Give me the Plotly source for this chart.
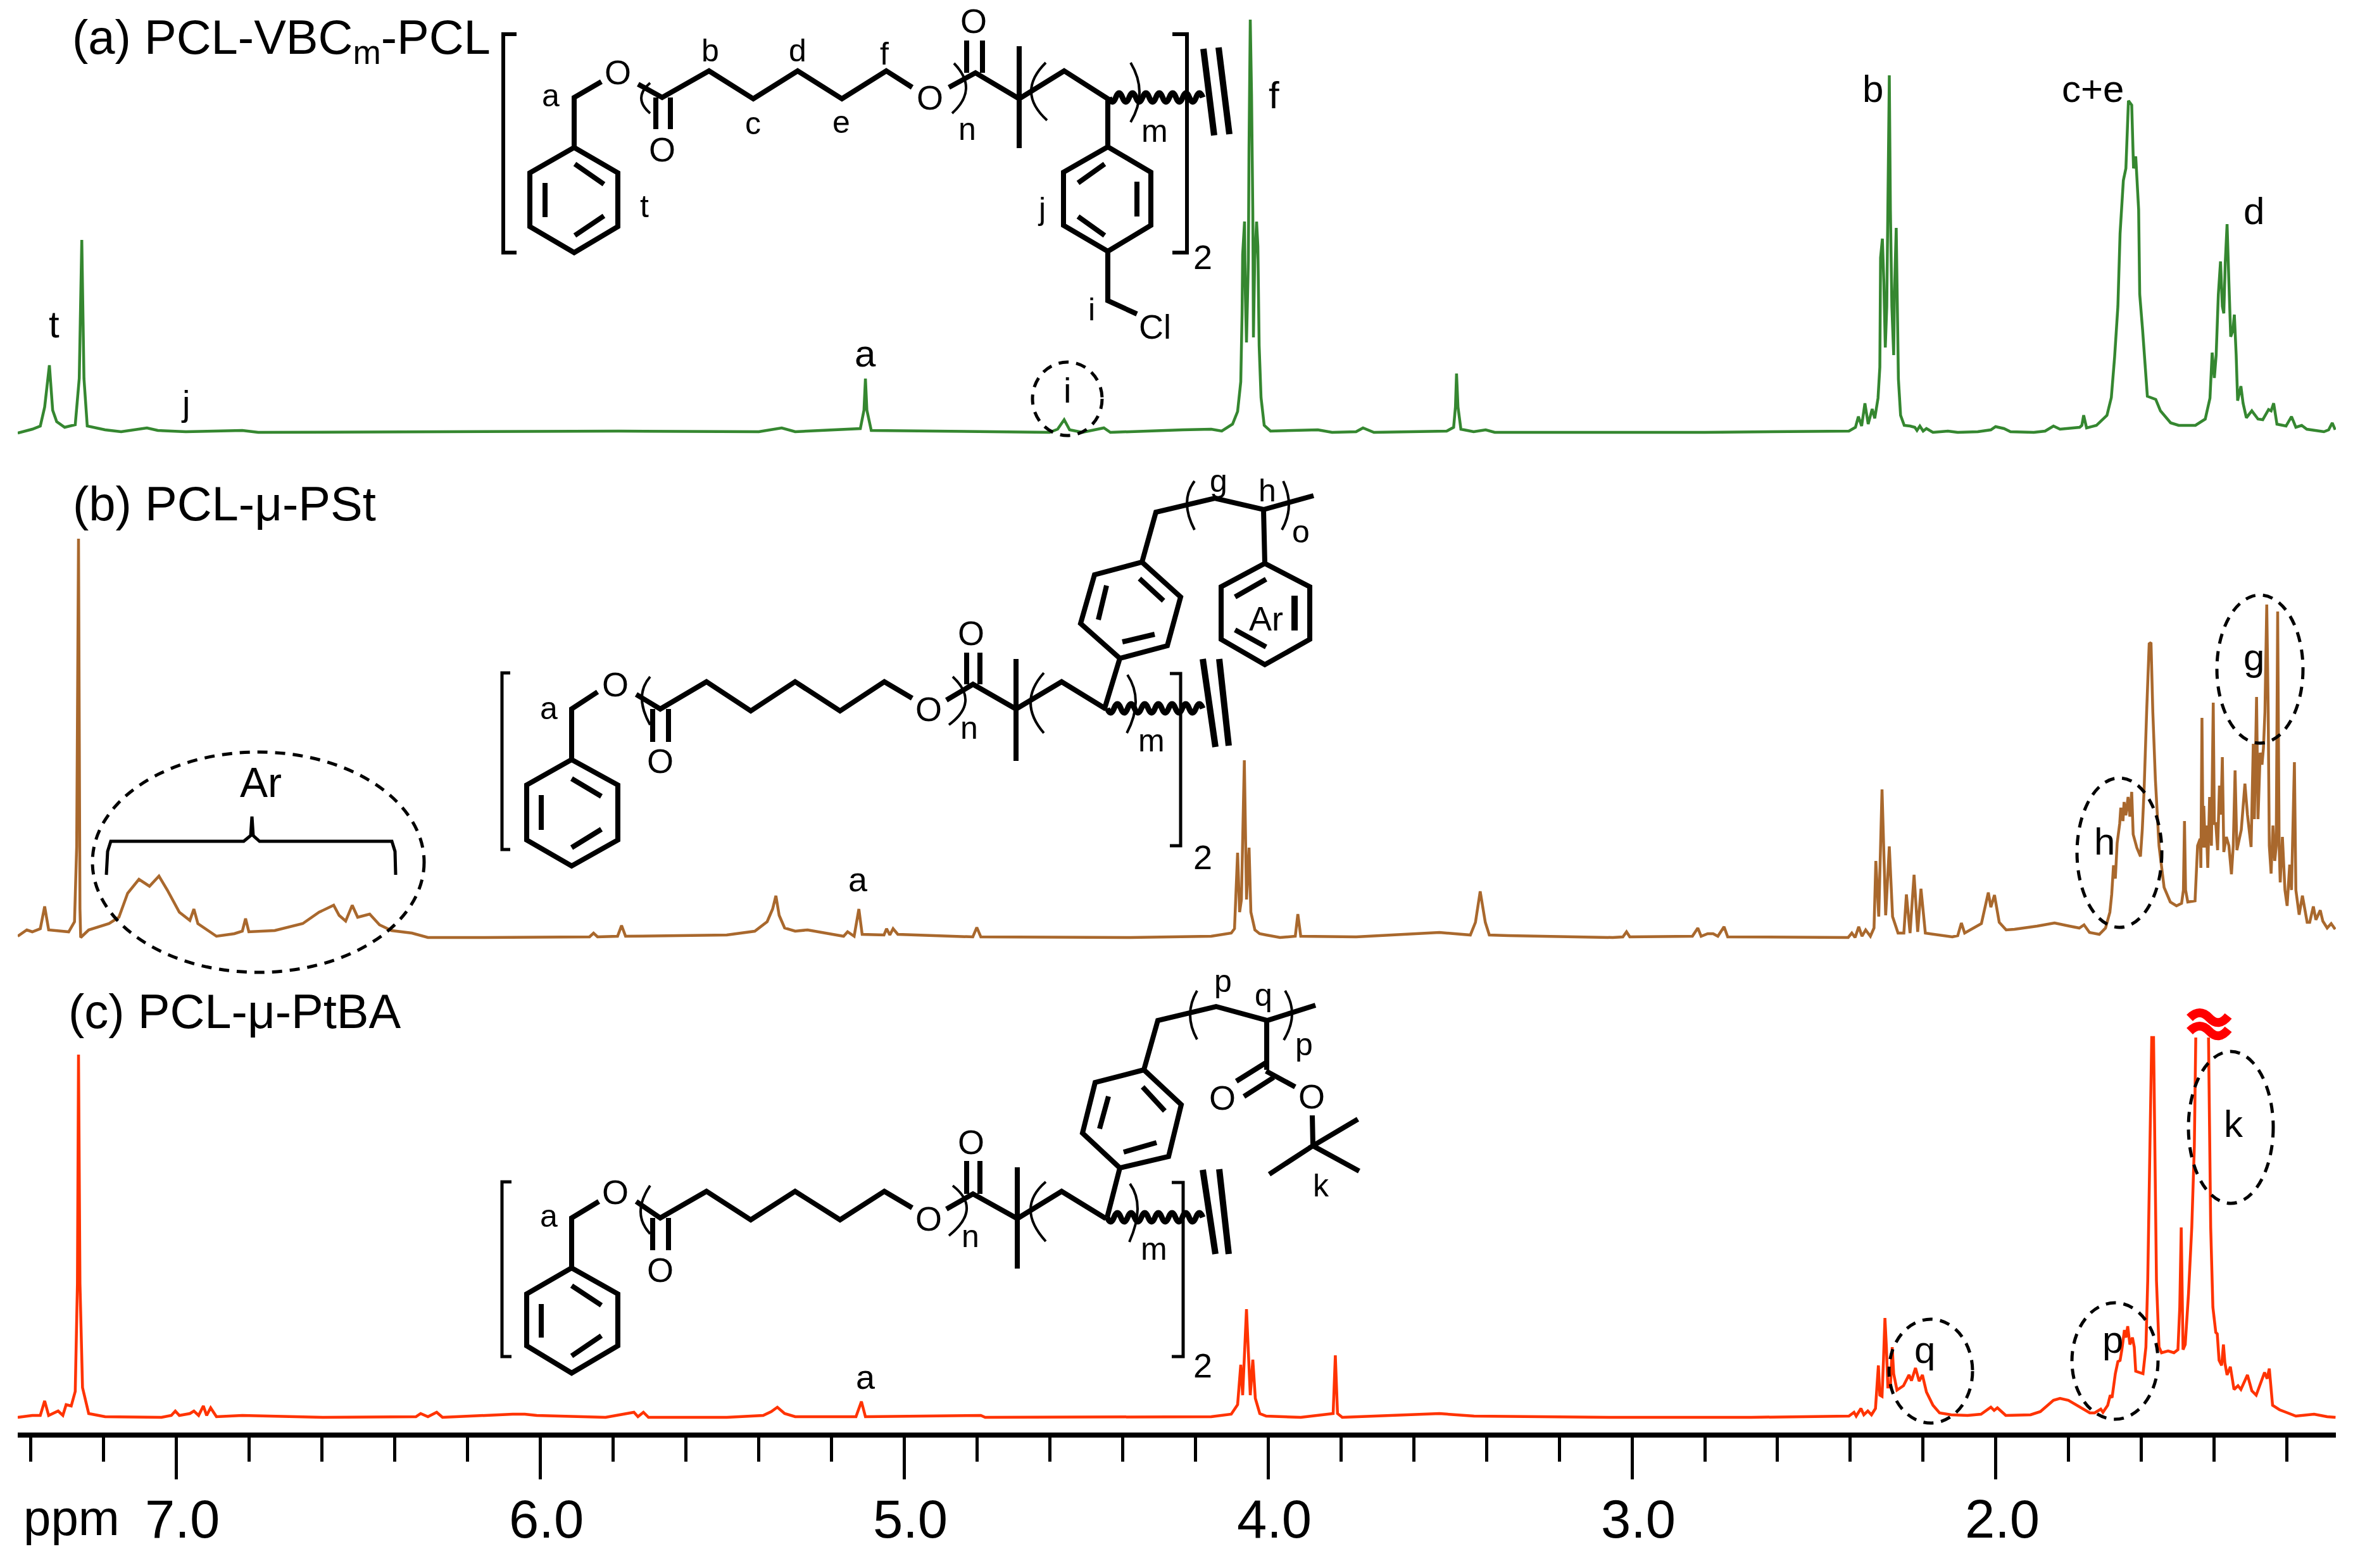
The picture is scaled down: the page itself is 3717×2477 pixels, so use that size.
import plotly.graph_objects as go

# ---------- spectra (ppm, intensity in image units) ----------
ppm_a = [7.435,7.395,7.373,7.361,7.348,7.339,7.328,7.306,7.277,7.266,7.259,7.253,7.244,7.195,7.151,7.102,7.080,7.050,6.973,6.818,6.774,
 5.784,5.399,5.336,5.299,5.120,5.110,5.106,5.102,5.090,4.600,4.578,4.560,4.545,4.510,4.451,4.433,4.234,4.156,4.127,4.0974,4.0835,4.0748,
 4.0713,4.0696,4.0644,4.0626,4.0591,4.0539,4.0522,4.0487,4.0452,4.0417,4.0400,4.0365,4.0313,4.0278,4.0243,4.0191,4.0104,3.993,
 3.863,3.824,3.758,3.739,3.709,3.509,3.490,3.485,3.482,3.478,3.470,3.435,3.402,3.377,2.80,2.50,
 2.440,2.404,2.386,2.378,2.369,2.360,2.351,2.340,2.333,2.324,2.319,2.317,2.312,2.308,2.304,2.300,2.297,2.293,2.290,2.286,2.281,2.279,2.274,2.271,2.268,2.262,2.252,2.236,2.223,2.217,2.209,2.200,2.191,2.173,2.132,2.105,2.050,2.014,2.001,1.978,1.960,1.896,1.865,1.842,1.824,1.770,1.764,1.759,1.751,1.724,1.706,1.695,1.683,1.674,1.665,1.659,1.650,1.643,1.636,1.627,1.622,1.616,1.608,1.605,1.597,1.590,1.584,1.561,1.548,1.520,1.498,1.452,1.425,1.412,1.406,1.400,1.395,1.389,1.383,1.378,1.374,1.370,1.365,1.360,1.355,1.349,1.345,1.340,1.336,1.327,1.321,1.312,1.297,1.280,1.267,1.251,1.244,1.237,1.228,1.203,1.188,1.176,1.160,1.146,1.099,1.086,1.076,1.068]
int_a = [-1,5,10,40,106,35,17,8,12,85,304,85,10,4,1,5,7,3,1,3,0,
 2,1,7,1,6,35,85,35,3,0,5,20,4,0,7,0,4,5,2,13,33,80,
 185,281,333,229,142,272,447,652,534,347,150,272,333,294,137,55,11,2,
 4,0,1,7,0,2,8,40,93,40,5,1,4,0,0,1,
 2,2,8,25,10,46,13,37,22,54,103,276,306,237,134,199,352,564,352,199,122,218,323,199,84,27,11,10,8,3,10,2,6,0,2,0,1,4,9,6,1,0,2,10,5,8,11,27,7,11,21,27,55,119,199,314,398,417,524,517,417,436,352,218,161,103,57,52,34,15,11,11,21,54,126,86,122,218,270,199,188,268,329,237,151,161,186,122,50,73,46,23,34,21,20,36,34,46,13,10,25,8,11,5,1,4,15,4]

ppm_b = [7.435,7.410,7.395,7.373,7.361,7.350,7.295,7.279,7.273,7.268,7.264,7.262,7.240,7.184,7.157,7.133,7.102,7.073,7.047,7.024,6.991,6.962,6.951,6.940,6.889,6.840,6.818,6.809,6.800,6.729,6.652,6.607,6.567,6.552,6.534,6.516,6.501,6.468,6.441,6.408,6.352,6.308,6.153,5.864,5.853,5.842,5.787,5.776,5.765,5.487,5.410,5.376,5.361,5.352,5.343,5.328,5.299,5.265,5.166,5.155,5.137,5.124,5.115,5.055,5.048,5.039,5.030,5.017,4.811,4.800,4.789,4.378,4.156,4.101,4.092,
 4.0835,4.078,4.073,4.065,4.059,4.052,4.047,4.036,4.023,4.005,
 3.967,3.925,3.918,3.910,3.758,3.529,3.444,3.430,3.417,3.403,3.392,3.339,3.053,3.025,3.015,3.006,2.834,2.819,2.810,2.792,2.777,2.764,2.747,2.737,2.406,2.396,2.387,2.377,2.368,2.358,2.345,2.335,2.330,2.322,2.313,2.303,2.293,2.284,2.269,2.253,2.246,2.236,2.225,2.215,2.206,2.194,2.120,2.105,2.095,2.086,2.063,2.040,2.021,2.014,2.004,1.991,
 1.972,1.949,1.887,1.839,1.798,1.771,1.758,1.743,1.716,1.699,1.687,1.682,1.677,1.672,1.667,1.660,1.657,1.651,1.648,1.643,1.637,1.632,1.627,1.623,1.613,1.603,1.598,1.593,1.586,1.579,1.574,1.569,1.562,1.552,1.538,1.521,1.504,1.490,1.485,1.482,1.479,1.473,1.453,1.446,1.439,1.437,1.434,1.431,1.429,1.425,1.422,1.418,1.413,1.408,1.403,1.400,1.396,1.391,1.386,1.382,1.378,1.374,1.367,1.360,1.353,1.348,1.343,1.338,1.326,1.316,1.309,1.299,1.293,1.290,1.284,1.280,1.274,1.269,1.265,1.261,1.256,1.252,1.249,1.244,1.239,1.234,1.230,1.226,1.222,1.219,1.213,1.206,1.200,1.193,1.188,1.185,1.180,1.176,1.167,1.158,1.145,1.138,1.128,1.121,1.109,1.102,1.090,1.079,1.068]
int_b = [2,12,9,14,49,12,9,25,144,630,45,0,12,22,32,70,92,81,97,75,40,27,45,22,2,6,10,30,9,11,22,40,51,35,26,51,32,37,20,11,7,0,0,1,7,1,2,19,2,4,10,25,45,66,35,15,10,12,2,9,2,45,5,4,14,4,14,5,1,16,1,0,2,7,14,
 134,40,60,280,60,142,40,12,6,4,
 0,2,37,2,1,8,4,24,73,24,4,3,0,1,9,1,2,15,2,6,6,2,17,1,0,7,0,17,2,12,2,15,121,33,234,35,144,33,7,7,68,7,99,9,77,7,1,3,23,7,15,22,71,48,67,24,
 12,13,18,23,18,15,20,8,5,15,40,68,114,93,149,180,205,184,214,193,222,191,230,163,142,128,170,233,356,464,466,356,250,145,79,56,50,54,75,184,75,56,58,145,156,110,347,142,208,142,177,110,222,145,371,180,180,138,240,194,285,135,159,145,100,145,264,138,170,243,194,143,306,187,380,187,292,273,300,356,526,356,145,101,177,121,145,515,145,87,159,75,50,115,75,138,277,75,36,66,24,24,49,28,43,26,15,22,13]

ppm_c = [7.435,7.395,7.373,7.361,7.350,7.324,7.311,7.302,7.288,7.277,7.271,7.268,7.264,7.257,7.240,7.195,7.040,7.013,7.002,6.991,6.962,6.951,6.938,6.925,6.916,6.905,6.889,6.818,6.596,6.341,6.328,6.308,6.284,6.268,6.075,6.042,6.009,5.820,5.742,5.731,5.716,5.702,5.487,5.387,5.365,5.348,5.328,5.299,5.132,5.117,5.106,4.789,4.777,4.156,4.101,
 4.0835,4.0748,4.0696,4.0591,4.0487,4.0417,4.0348,4.0226,4.005,
 3.910,3.821,3.815,3.809,3.796,3.529,3.434,3.053,2.673,
 2.440,2.404,2.390,2.384,2.371,2.363,2.352,2.342,2.331,2.327,2.323,2.319,2.313,2.309,2.305,2.301,2.297,2.290,2.285,2.281,2.272,2.254,2.239,2.232,2.221,2.211,2.202,2.191,2.173,2.155,2.123,2.078,2.041,2.014,2.005,1.996,1.973,1.905,1.878,1.842,1.824,1.801,1.742,1.729,1.712,1.706,1.693,1.686,1.681,1.672,1.665,1.659,1.654,1.647,1.643,1.638,1.632,1.625,1.620,1.616,1.606,1.596,1.588,1.583,1.577,1.572,1.567,1.563,1.559,1.552,1.545,1.527,1.511,1.500,1.495,1.491,1.489,1.486,1.480,1.471,1.462,1.455,1.451,None,1.416,1.413,1.410,1.404,1.396,1.392,1.387,1.380,1.375,1.371,1.365,1.356,1.346,1.335,1.327,1.309,1.297,1.285,1.276,1.262,1.255,1.249,1.240,1.221,1.203,1.176,1.126,1.090,1.067]
int_c = [0,3,3,26,3,10,3,20,18,41,211,573,211,47,6,1,0,3,10,3,6,10,3,18,3,15,1,3,0,1,6,1,8,0,5,5,3,0,8,1,8,0,0,3,9,16,6,1,1,25,1,3,0,1,5,
 20,83,35,171,35,91,30,6,2,
 0,6,98,6,0,6,2,0,0,
 2,2,8,2,14,4,10,4,14,48,82,35,33,90,157,111,48,48,111,69,43,50,67,58,78,57,67,40,19,7,4,3,5,16,11,15,3,4,9,27,30,27,7,7,13,8,19,35,31,69,88,90,107,138,126,144,115,126,111,73,71,69,111,216,427,600,600,427,216,111,102,105,102,107,174,300,174,107,115,195,300,427,600,None,600,427,300,174,134,132,90,82,115,86,67,80,44,50,44,67,42,35,50,71,61,77,19,12,8,2,5,1,0]

major_ticks = [7, 6, 5, 4, 3, 2]
major_labels = ["7.0", "6.0", "5.0", "4.0", "3.0", "2.0"]
minor_ticks = [7.4,7.2,6.8,6.6,6.4,6.2,5.8,5.6,5.4,5.2,4.8,4.6,4.4,4.2,3.8,3.6,3.4,3.2,2.8,2.6,2.4,2.2,1.8,1.6,1.4,1.2]

# ---------- page geometry ----------
W, H = 3717, 2477
ML, MR, MT, MB = 28, 27, 0, 214
PW, PH = W - ML - MR, H - MT - MB
def px(x): return (x - ML) / PW
def py(y): return 1 - (y - MT) / PH
BLACK = "#000000"
shapes, annos = [], []

def poly(lines, width=8, color=BLACK, fill=None):
    d = ""
    for pts in lines:
        d += "M" + " L".join(f"{px(a):.5f},{py(b):.5f}" for a, b in pts) + " "
    shapes.append(dict(type="path", path=d, xref="paper", yref="paper", layer="above",
                       line=dict(color=color, width=width)))
def paren(a, b, c, width=4):
    cx = 2*b[0] - (a[0]+c[0])/2; cy = 2*b[1] - (a[1]+c[1])/2
    d = f"M{px(a[0]):.5f},{py(a[1]):.5f} Q{px(cx):.5f},{py(cy):.5f} {px(c[0]):.5f},{py(c[1]):.5f}"
    shapes.append(dict(type="path", path=d, xref="paper", yref="paper", layer="above",
                       line=dict(color=BLACK, width=width)))
def wavy(x0, x1, y, n=7, amp=7, width=9):
    w = (x1-x0)/n
    d = f"M{px(x0):.5f},{py(y):.5f}"
    x = x0
    for i in range(n):
        d += f" Q{px(x+w/4):.5f},{py(y+amp*2):.5f} {px(x+w/2):.5f},{py(y):.5f}"
        d += f" Q{px(x+3*w/4):.5f},{py(y-amp*2):.5f} {px(x+w):.5f},{py(y):.5f}"
        x += w
    shapes.append(dict(type="path", path=d, xref="paper", yref="paper", layer="above",
                       line=dict(color=BLACK, width=width)))
def ellipse(cx, cy, rx, ry):
    shapes.append(dict(type="circle", xref="paper", yref="paper", layer="above",
                       x0=px(cx-rx), x1=px(cx+rx), y0=py(cy+ry), y1=py(cy-ry),
                       line=dict(color=BLACK, width=5, dash="16px,12px")))
def text(x, y, s, size=50, anchor="center", color=BLACK):
    annos.append(dict(x=px(x), y=py(y), xref="paper", yref="paper", text=s, showarrow=False,
                      xanchor=anchor, yanchor="middle", align=anchor,
                      font=dict(family="Liberation Sans", size=size, color=color)))

# ---------- structure (a) ----------
poly([[(816,54),(795,54),(795,399),(816,399)], [(1852,54),(1875,54),(1875,399),(1852,399)]], 6)
poly([[(907,233),(976,273),(976,358),(907,399),(837,358),(837,273),(907,233),(907,154),(950,129)],
      [(908,259),(954,291)],[(954,341),(908,372)],[(861,289),(861,343)],
      [(1008,133),(1046,154),(1120,112),(1190,156),(1260,112),(1330,156),(1400,112),(1441,138)],
      [(1036,154),(1036,204)],[(1059,154),(1059,204)],
      [(1499,138),(1541,115),(1610,156),(1681,112),(1750,156),(1750,232),(1818,272),(1818,356),(1750,397),(1680,356),(1680,272),(1750,232)],
      [(1527,115),(1527,64)],[(1552,115),(1552,64)],[(1610,73),(1610,234)],
      [(1703,289),(1745,259)],[(1796,287),(1796,342)],[(1703,342),(1745,372)],
      [(1750,397),(1750,475),(1796,496)]])
poly([[(1901,77),(1918,214)],[(1925,75),(1942,212)]], 10)
wavy(1752, 1900, 154)
paren((1027,131),(1013,155),(1027,179)); paren((1507,100),(1526,140),(1504,179))
paren((1652,99),(1629,145),(1654,190)); paren((1786,99),(1800,146),(1786,193))
for x,y,s in [(976,114,"O"),(1046,236,"O"),(1469,154,"O"),(1538,33,"O"),(1824,516,"Cl"),(870,151,"a"),(1122,80,"b"),(1189,195,"c"),(1260,80,"d"),(1329,193,"e"),(1397,85,"f"),
              (1018,326,"t"),(1645,330,"j"),(1724,489,"i"),(1528,204,"n"),(1824,207,"m"),(1900,406,"2")]:
    text(x,y,s,54 if s in("O","Cl","2") else 50)
text(112,64,"(a) PCL-VBC<sub>m</sub>-PCL",76,"left")
text(85,512,"t",60); text(1367,558,"a",60); text(293,636,"j",56); text(1686,616,"i",56)
text(2013,150,"f",60); text(2958,140,"b",60); text(3306,140,"c+e",60); text(3560,333,"d",60)
ellipse(1686,630,55,58)

# ---------- structure (b) ----------
poly([[(806,1063),(793,1063),(793,1342),(806,1342)], [(1848,1064),(1865,1064),(1865,1336),(1848,1336)]], 5)
poly([[(903,1200),(976,1240),(976,1327),(903,1368),(832,1327),(832,1240),(903,1200),(903,1120),(944,1093)],
      [(903,1230),(950,1258)],[(950,1310),(903,1339)],[(855,1256),(855,1311)],
      [(1005,1097),(1043,1120),(1116,1077),(1186,1123),(1256,1077),(1327,1123),(1397,1077),(1441,1103)],
      [(1031,1120),(1031,1172)],[(1056,1120),(1056,1172)],
      [(1495,1106),(1537,1081),(1605,1120),(1677,1077),(1747,1120)],
      [(1527,1081),(1527,1031)],[(1548,1081),(1548,1031)],[(1605,1041),(1605,1202)],
      [(1745,1119),(1769,1040),(1844,1020),(1865,943),(1804,888),(1729,908),(1707,985),(1769,1040)],
      [(1800,914),(1838,949)],[(1773,1014),(1824,1002)],[(1735,979),(1748,925)],
      [(1804,888),(1826,809),(1919,787),(1996,805),(2075,783)],
      [(1996,805),(1998,890),(2069,927),(2069,1010),(1998,1050),(1929,1010),(1929,927),(1998,890)],
      [(1951,943),(2000,915)],[(1951,995),(2000,1022)]], 8)
poly([[(2045,941),(2045,996)]], 10)
poly([[(1900,1041),(1920,1180)],[(1926,1041),(1941,1178)]], 10)
wavy(1749, 1900, 1119)
paren((1027,1069),(1014,1103),(1027,1145)); paren((1505,1069),(1525,1108),(1499,1145))
paren((1649,1063),(1628,1110),(1649,1158)); paren((1781,1066),(1794,1109),(1780,1158))
paren((1887,760),(1875,795),(1887,837)); paren((2027,760),(2036,799),(2025,837))
for x,y,s in [(972,1081,"O"),(1043,1202,"O"),(1467,1120,"O"),(1534,1000,"O"),(867,1119,"a"),(1531,1150,"n"),(1819,1170,"m"),
              (1900,1354,"2"),(1925,760,"g"),(2002,775,"h"),(2055,840,"o")]:
    text(x,y,s,54 if s in("O","2") else 50)
text(2000,977,"Ar",54)
text(113,795,"(b) PCL-μ-PSt",76,"left")
text(1355,1389,"a",54); text(412,1236,"Ar",66)
poly([[(168,1382),(170,1345),(175,1329),(385,1329),(396,1320),(398,1290),(400,1320),(410,1329),(619,1329),(624,1345),(625,1382)]], 5)
ellipse(408,1362,262,174); ellipse(3348,1347,67,118); ellipse(3570,1057,68,117)
text(3324,1330,"h",60); text(3560,1038,"g",60)

# ---------- structure (c) ----------
poly([[(808,1867),(793,1867),(793,2143),(808,2143)], [(1851,1868),(1869,1868),(1869,2143),(1851,2143)]], 5)
poly([[(903,2003),(976,2044),(976,2126),(903,2169),(832,2126),(832,2044),(903,2003),(903,1924),(946,1898)],
      [(903,2031),(950,2062)],[(950,2110),(903,2142)],[(855,2060),(855,2113)],
      [(1005,1898),(1043,1924),(1116,1882),(1186,1927),(1256,1882),(1327,1927),(1397,1882),(1441,1908)],
      [(1031,1924),(1031,1975)],[(1056,1924),(1056,1975)],
      [(1495,1910),(1537,1886),(1607,1925),(1677,1882),(1747,1925)],
      [(1527,1886),(1527,1834)],[(1548,1886),(1548,1834)],[(1607,1844),(1607,2004)],
      [(1749,1923),(1769,1845),(1846,1827),(1866,1745),(1807,1690),(1730,1710),(1710,1790),(1769,1845)],
      [(1805,1717),(1840,1755)],[(1775,1820),(1827,1805)],[(1737,1783),(1751,1732)],
      [(1807,1690),(1829,1612),(1921,1590),(2002,1612),(2078,1588)],
      [(2001,1612),(2001,1690)],[(2001,1678),(1953,1708)],[(2012,1702),(1965,1732)],[(2000,1692),(2046,1717)],
      [(2073,1762),(2074,1810)],[(2145,1768),(2074,1810),(2147,1850)],[(2074,1810),(2005,1855)]], 8)
poly([[(1900,1848),(1920,1981)],[(1926,1847),(1941,1981)]], 10)
wavy(1749, 1900, 1923)
paren((1027,1873),(1012,1914),(1027,1949)); paren((1505,1873),(1527,1911),(1499,1952))
paren((1652,1867),(1628,1911),(1652,1961)); paren((1785,1870),(1797,1910),(1784,1962))
paren((1891,1565),(1880,1603),(1891,1642)); paren((2030,1565),(2041,1603),(2028,1643))
for x,y,s in [(972,1883,"O"),(1043,2006,"O"),(1467,1925,"O"),(1534,1804,"O"),(1931,1734,"O"),(2072,1732,"O"),(867,1921,"a"),(1533,1953,"n"),(1823,1973,"m"),
              (1900,2157,"2"),(1932,1550,"p"),(1996,1572,"q"),(2060,1650,"p"),(2087,1873,"k")]:
    text(x,y,s,54 if s in("O","2") else 50)
text(106,1597,"(c) PCL-μ-PtBA",76,"left")
text(1367,2175,"a",54)
ellipse(3050,2166,66,82); ellipse(3341,2150,68,92); ellipse(3524,1781,67,120)
text(3040,2132,"q",60); text(3337,2116,"p",60); text(3528,1775,"k",60)
for yy in (1608,1629):
    d = (f"M{px(3459):.5f},{py(yy):.5f} Q{px(3475):.5f},{py(yy-16):.5f} {px(3490):.5f},{py(yy):.5f} "
         f"Q{px(3505):.5f},{py(yy+16):.5f} {px(3520):.5f},{py(yy-3):.5f}")
    shapes.append(dict(type="path", path=d, xref="paper", yref="paper", layer="above",
                       line=dict(color="#FF0000", width=14)))
text(113,2398,"ppm",78)

# ---------- figure ----------
fig = go.Figure()
fig.add_trace(go.Scatter(x=ppm_a, y=int_a, xaxis="x", yaxis="y3", mode="lines", name="PCL-VBCm-PCL",
                         line=dict(color="#358730", width=4.5), cliponaxis=False))
fig.add_trace(go.Scatter(x=ppm_b, y=int_b, xaxis="x", yaxis="y2", mode="lines", name="PCL-μ-PSt",
                         line=dict(color="#A9682D", width=4.5), cliponaxis=False))
fig.add_trace(go.Scatter(x=ppm_c, y=int_c, xaxis="x", yaxis="y", mode="lines", name="PCL-μ-PtBA",
                         line=dict(color="#FF3300", width=4.5), cliponaxis=False, connectgaps=False))

def dom(top, bottom):
    return [(PH - (bottom - MT)) / PH, (PH - (top - MT)) / PH]

fig.update_layout(
    width=W, height=H, autosize=False, showlegend=False,
    margin=dict(l=ML, r=MR, t=MT, b=MB, pad=0),
    paper_bgcolor="white", plot_bgcolor="white",
    font=dict(family="Liberation Sans", color=BLACK),
    xaxis=dict(range=[7.435, 1.066], showgrid=False, zeroline=False, showline=True, linecolor=BLACK, linewidth=8,
               ticks="outside", ticklen=66, tickwidth=5, tickcolor=BLACK, tickmode="array",
               tickvals=major_ticks, ticktext=major_labels, ticklabelshift=-10, ticklabelstandoff=-10,
               tickfont=dict(family="Liberation Sans", size=85, color=BLACK),
               minor=dict(tickmode="array", tickvals=minor_ticks, ticks="outside", ticklen=38, tickwidth=5, tickcolor=BLACK, showgrid=False)),
    yaxis=dict(domain=dom(1600, PH), range=[2239-PH, 2239-1600], visible=False, fixedrange=True),
    yaxis2=dict(domain=dom(780, 1500), range=[1481-1500, 1481-780], visible=False, anchor="x", fixedrange=True),
    yaxis3=dict(domain=dom(0, 700), range=[683-700, 683], visible=False, anchor="x", fixedrange=True),
    shapes=shapes, annotations=annos,
)
fig.write_html("out.html", config={"displayModeBar": False}, post_script="document.body.style.margin='0';")
